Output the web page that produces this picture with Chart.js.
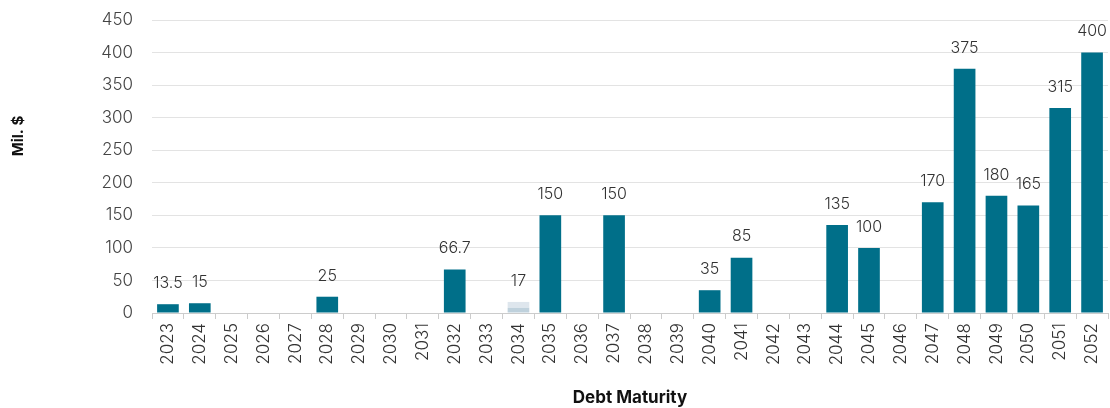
<!DOCTYPE html>
<html>
<head>
<meta charset="utf-8">
<script src="https://cdn.jsdelivr.net/npm/chart.js@4"></script>
<style>
  html, body { margin: 0; padding: 0; background: #ffffff; }
  #wrap { width: 1110px; height: 408px; position: relative; }
</style>
</head>
<body>
<div id="wrap"><canvas id="c"></canvas></div>
<script>
const years = ["2023","2024","2025","2026","2027","2028","2029","2030","2031","2032","2033","2034","2035","2036","2037","2038","2039","2040","2041","2042","2043","2044","2045","2046","2047","2048","2049","2050","2051","2052"];
const mainValues = [13.5,15,0,0,0,25,0,0,0,66.7,0,0,150,0,150,0,0,35,85,0,0,135,100,0,170,375,180,165,315,400];
const pendingLower = [0,0,0,0,0,0,0,0,0,0,0,8,0,0,0,0,0,0,0,0,0,0,0,0,0,0,0,0,0,0];
const pendingUpper = [0,0,0,0,0,0,0,0,0,0,0,9,0,0,0,0,0,0,0,0,0,0,0,0,0,0,0,0,0,0];
const valueLabels = ["13.5","15","","","","25","","","","66.7","","17","150","","150","","","35","85","","","135","100","","170","375","180","165","315","400"];
const yTicks = [0,50,100,150,200,250,300,350,400,450];

const FONT = "Inter, 'Noto Sans', sans-serif";

const labelPlugin = {
  id: 'valueLabels',
  afterDatasetsDraw(chart) {
    const ctx = chart.ctx;
    const y = chart.scales.y;
    const x = chart.scales.x;
    ctx.save();
    ctx.font = "300 16px " + FONT;
    ctx.fillStyle = "#333333";
    ctx.textAlign = "center";
    ctx.textBaseline = "middle";
    years.forEach((yr, i) => {
      const lbl = valueLabels[i];
      if (!lbl) return;
      const total = mainValues[i] + pendingLower[i] + pendingUpper[i];
      const px = x.getPixelForValue(i);
      const py = y.getPixelForValue(total);
      ctx.fillText(lbl, px, py - 21);
    });
    ctx.restore();
  }
};

const yTitlePlugin = {
  id: 'yTitle',
  afterDraw(chart) {
    const ctx = chart.ctx;
    ctx.save();
    ctx.translate(18, 136);
    ctx.rotate(-Math.PI / 2);
    ctx.font = "bold 15px " + FONT;
    ctx.fillStyle = "#111111";
    ctx.textAlign = "center";
    ctx.textBaseline = "middle";
    ctx.fillText("Mil. $", 0, 0);
    ctx.restore();
  }
};

new Chart(document.getElementById('c'), {
  type: 'bar',
  data: {
    labels: years,
    datasets: [
      { label: 'Debt', data: mainValues, backgroundColor: '#006f89', borderWidth: 0, stack: 's' },
      { label: 'Lower', data: pendingLower, backgroundColor: '#bfd1dc', borderWidth: 0, stack: 's' },
      { label: 'Upper', data: pendingUpper, backgroundColor: '#dee6ed', borderWidth: 0, stack: 's' }
    ]
  },
  options: {
    responsive: true,
    maintainAspectRatio: false,
    animation: false,
    layout: { padding: { top: 20, right: 2, left: 0, bottom: 0 } },
    datasets: { bar: { categoryPercentage: 0.8, barPercentage: 0.85 } },
    plugins: {
      legend: { display: false },
      tooltip: { enabled: false }
    },
    scales: {
      x: {
        stacked: true,
        afterFit(scale) { scale.height = 95; scale.paddingLeft = 0; scale.paddingRight = 0; },
        grid: { display: true, drawOnChartArea: false, drawTicks: true, tickLength: 6, color: '#cccccc', offset: true },
        border: { display: true, color: '#cccccc' },
        ticks: { color: '#333333', font: { family: FONT, size: 17, weight: 300 }, maxRotation: 90, minRotation: 90, padding: 4, autoSkip: false },
        title: { display: true, text: 'Debt Maturity', color: '#111111', font: { family: FONT, size: 17, weight: 'bold' }, padding: { top: 0, bottom: 0 } }
      },
      y: {
        stacked: true,
        min: 0,
        max: 450,
        afterFit(scale) { scale.width = 152; scale.paddingTop = 0; scale.paddingBottom = 0; },
        afterBuildTicks(scale) { scale.ticks = yTicks.map(v => ({ value: v })); },
        grid: { color: '#e3e3e3', drawTicks: false },
        border: { display: false },
        ticks: { color: '#444444', font: { family: FONT, size: 17, weight: 300 }, padding: 19 }
      }
    }
  },
  plugins: [labelPlugin, yTitlePlugin]
});
</script>
</body>
</html>
